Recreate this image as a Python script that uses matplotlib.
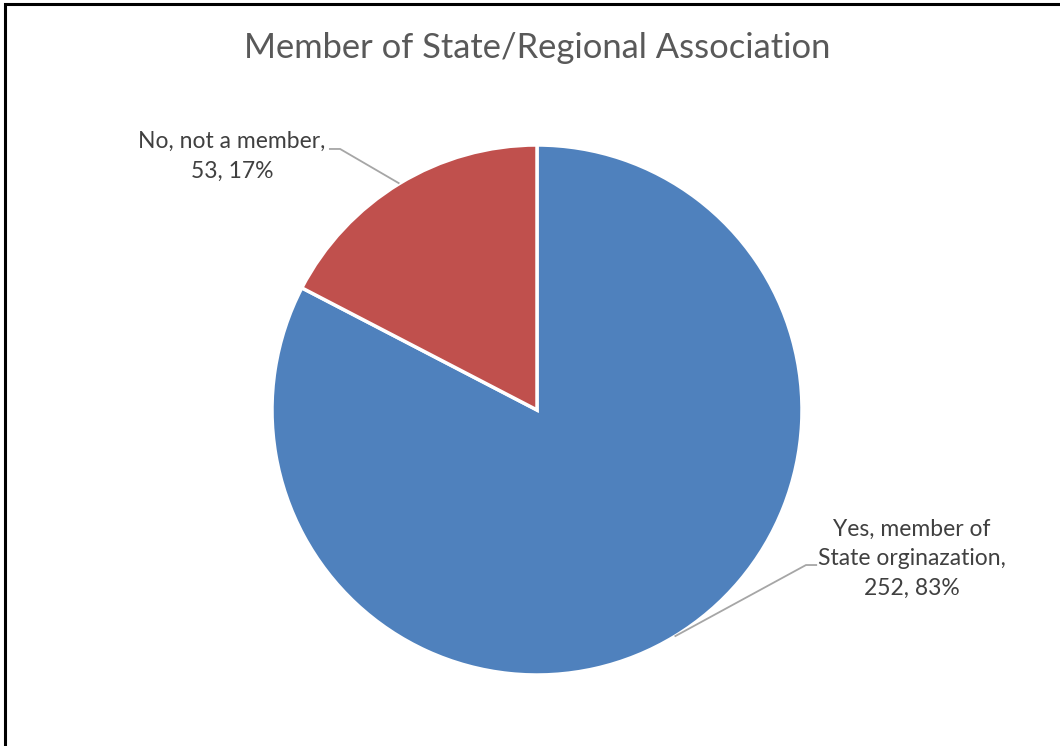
import matplotlib
matplotlib.use("Agg")
import matplotlib.pyplot as plt
import numpy as np

title = "Member of State/Regional Association"
categories = ["Yes, member of\nState orginazation", "No, not a member"]
counts = [252, 53]
percents = [83, 17]
colors = ["#4F81BD", "#C0504D"]

plt.rcParams["font.family"] = ["Lato", "DejaVu Sans"]

W, H = 1060, 746
fig = plt.figure(figsize=(W / 100, H / 100), dpi=100)

# Frame around the chart area (runs off the right and bottom edges)
frame = plt.Rectangle((5 / W, -0.05), 1.2, 1 - 4 / H + 0.05, transform=fig.transFigure,
                      fill=False, edgecolor="black", linewidth=2.2)
fig.patches.append(frame)

cx, cy, r = 537, 410, 265
ax = fig.add_axes([(cx - r) / W, (H - cy - r) / H, 2 * r / W, 2 * r / H])

wedges, _ = ax.pie(counts, colors=colors, startangle=90, counterclock=False,
                   radius=1.0, wedgeprops=dict(edgecolor="white", linewidth=2.5))
ax.set_xlim(-1, 1)
ax.set_ylim(-1, 1)
ax.set_aspect("equal")
ax.axis("off")

fig.text(cx / W, 1 - 48 / H, title, ha="center", va="center",
         fontsize=24.8, color="#595959")

label_text = [
    f"{categories[0]},\n{counts[0]}, {percents[0]}%",
    f"{categories[1]},\n{counts[1]}, {percents[1]}%",
]

# label centres and leader-line elbows in axes data units
label_pos = [(1.415, -0.562), (-1.151, 0.958)]
elbows = [((1.015, -0.585), (1.057, -0.585)), ((-0.743, 0.985), (-0.785, 0.985))]

for w, txt, pos, (b1, b2) in zip(wedges, label_text, label_pos, elbows):
    mid = np.deg2rad((w.theta1 + w.theta2) / 2)
    start = (np.cos(mid) * 1.0, np.sin(mid) * 1.0)
    ax.plot([start[0], b1[0], b2[0]], [start[1], b1[1], b2[1]], color="#A6A6A6",
            linewidth=1.3, clip_on=False, solid_capstyle="butt")
    ax.text(pos[0], pos[1], txt, ha="center", va="center", multialignment="center",
            fontsize=16.5, color="#404040", linespacing=1.5, clip_on=False)

fig.savefig("out.png", dpi=100)
